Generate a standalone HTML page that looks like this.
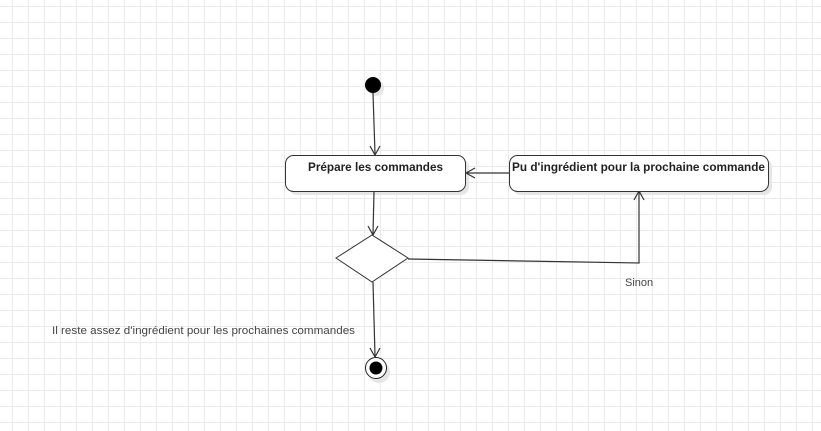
<!DOCTYPE html>
<html><head><meta charset="utf-8"><style>
html,body{margin:0;padding:0;background:#fff}
svg{display:block}
</style></head><body>
<svg width="821" height="431" xmlns="http://www.w3.org/2000/svg" font-family="Liberation Sans, Arial, sans-serif">
<defs>
<pattern id="g" x="12" y="6" width="16" height="16" patternUnits="userSpaceOnUse">
<path d="M0.5 0V16M0 0.5H16" stroke="#ebebeb" stroke-width="1" fill="none"/>
</pattern>
</defs>
<rect width="821" height="431" fill="url(#g)"/>
<g fill="#e6e6e6">
<circle cx="376" cy="88" r="8"/>
<rect x="289" y="159" width="180" height="36" rx="8"/>
<rect x="513" y="159" width="259" height="36" rx="8"/>
<circle cx="379" cy="372" r="11"/>
</g>
<g stroke="#333" stroke-width="1.2" fill="none">
<line x1="373" y1="93" x2="375" y2="154"/>
<path d="M370 146 L375 155 L380 146"/>
<line x1="374" y1="192" x2="373" y2="234"/>
<path d="M368 226 L373 235 L378 226"/>
<line x1="509" y1="173" x2="467" y2="173"/>
<path d="M475 168 L466 173 L475 178"/>
<polyline points="408,259 639,263 639,192"/>
<path d="M634 200 L639 191 L644 200"/>
<line x1="373" y1="282" x2="375" y2="356"/>
<path d="M370 348 L375 357 L380 348"/>
</g>
<circle cx="373" cy="85" r="8" fill="#000"/>
<rect x="285.5" y="155.5" width="180" height="36" rx="8" fill="#fff" stroke="#333"/>
<rect x="509.5" y="155.5" width="259" height="36" rx="8" fill="#fff" stroke="#333"/>
<polygon points="336,258 372,235 408,258 372,282" fill="#fff" stroke="#333"/>
<circle cx="376" cy="368" r="10.5" fill="#fff" stroke="#222"/>
<circle cx="376" cy="368" r="6.5" fill="#000"/>
<g font-size="12" fill="#222" font-weight="bold">
<text x="308" y="171" textLength="135" lengthAdjust="spacingAndGlyphs">Prépare les commandes</text>
<text x="512" y="171" textLength="253" lengthAdjust="spacingAndGlyphs">Pu d'ingrédient pour la prochaine commande</text>
</g>
<g font-size="11" fill="#444">
<text x="625" y="286">Sinon</text>
<text x="52" y="334" textLength="303" lengthAdjust="spacingAndGlyphs">Il reste assez d'ingrédient pour les prochaines commandes</text>
</g>
</svg>
</body></html>
